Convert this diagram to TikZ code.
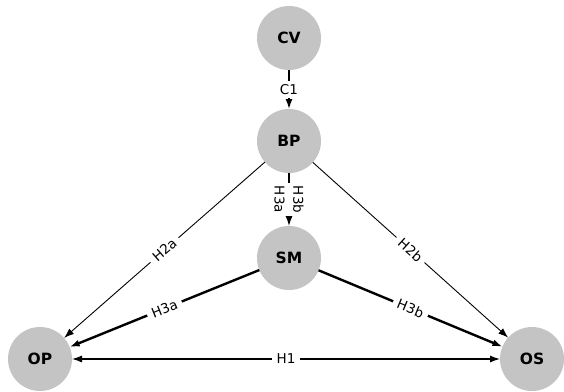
\documentclass[tikz,border=0pt]{standalone}
\usepackage{fontspec}
\setmainfont{DejaVu Sans}
\usetikzlibrary{arrows.meta}
\definecolor{nodegray}{RGB}{196,196,196}

\begin{document}
\begin{tikzpicture}[x=1pt,y=-1pt,
			    var/.style={circle,fill=nodegray,minimum size=64pt,inner sep=0pt,outer sep=0pt,font=\fontsize{15.5}{17}\selectfont\bfseries},
			    edge/.style={-{Latex[length=10pt,width=7pt]},line width=0.9pt},
			    strong/.style={edge,line width=2.4pt},
			    lbl/.style={fill=white,inner xsep=5pt,inner ysep=3pt,font=\fontsize{13.5}{15}\selectfont},
			    side/.style={lbl,inner xsep=3pt,inner ysep=5pt},
			]
	    \useasboundingbox (0,0) rectangle (564,391);

	    \node[var] (cv) at (289,38) {CV};
	    \node[var] (bp) at (289,141) {BP};
	    \node[var] (sm) at (289,258) {SM};
	    \node[var] (op) at (40,359) {OP};
	    \node[var] (os) at (532,359) {OS};

	    %control
	    \draw [edge,line width=1.4pt] (cv) -- node [lbl] {C1} (bp);

	    %mediation
	    \draw [edge,line width=1.2pt] (bp) -- node [xshift=-9.5pt,rotate=-90,side] {H3a}
	                                          node [xshift=9.5pt,rotate=-90,side] {H3b} (sm);
	    \draw [strong] (sm) -- node [lbl,sloped] {H3a} (op);
	    \draw [strong] (sm) -- node [lbl,sloped] {H3b} (os);

	    %direct paths
	    \draw [edge] (bp) -- node [lbl,sloped] {H2a} (op);
	    \draw [edge] (bp) -- node [lbl,sloped] {H2b} (os);
	    \draw [edge,{Latex[length=10pt,width=7pt]}-{Latex[length=10pt,width=7pt]},line width=1.2pt] (op) -- node [lbl] {H1} (os);
	\end{tikzpicture}
\end{document}
